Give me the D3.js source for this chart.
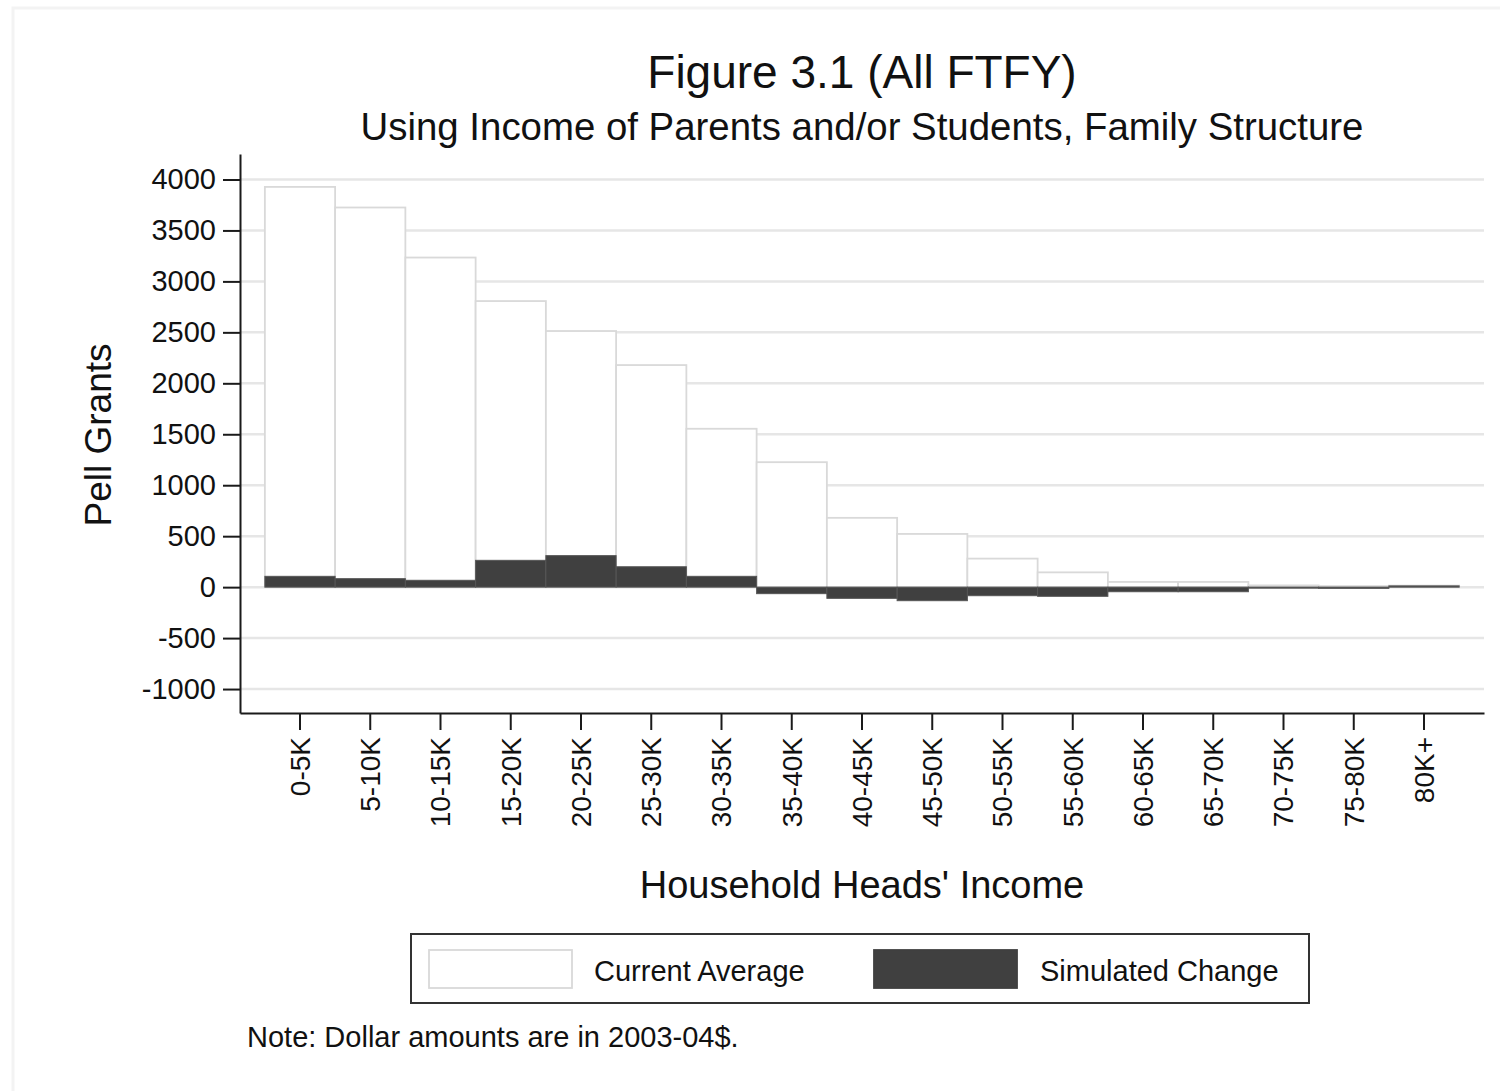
<!DOCTYPE html>
<html>
<head>
<meta charset="utf-8">
<script src="https://cdn.jsdelivr.net/npm/d3@7"></script>
<style>
  html, body { margin: 0; padding: 0; background: #fff; }
  svg { display: block; }
  text { font-family: "Liberation Sans", Arial, sans-serif; fill: #111; }
</style>
</head>
<body>
<svg id="chart" width="1500" height="1091"></svg>
<script>
// Income brackets of the household head
const categories = ["0-5K", "5-10K", "10-15K", "15-20K", "20-25K", "25-30K", "30-35K", "35-40K",
  "40-45K", "45-50K", "50-55K", "55-60K", "60-65K", "65-70K", "70-75K", "75-80K", "80K+"];
// Current average Pell Grant per bracket (dollars)
const currentAverage = [3927, 3725, 3234, 2807, 2513, 2179, 1554, 1226, 680, 522, 280, 145, 51, 51, 17, 10, 15];
// Simulated change in Pell Grant per bracket (dollars)
const simulatedChange = [106, 83, 67, 263, 309, 200, 106, -64, -110, -133, -84, -90, -45, -45, -10, -12, 12];
// Y-axis tick values
const yTicks = [-1000, -500, 0, 500, 1000, 1500, 2000, 2500, 3000, 3500, 4000];

const titleText = "Figure 3.1 (All FTFY)";
const subtitleText = "Using Income of Parents and/or Students, Family Structure";
const xTitle = "Household Heads' Income";
const yTitle = "Pell Grants";
const legendLabels = ["Current Average", "Simulated Change"];
const noteText = "Note: Dollar amounts are in 2003-04$.";

const svg = d3.select("#chart");
const W = 1500, H = 1091;
const plot = { left: 240, right: 1484, top: 154, bottom: 713 };
const darkFill = "#404040";
const barStroke = "#d9d9d9";

// faint outer frame
svg.append("rect")
  .attr("x", 13).attr("y", 8).attr("width", W).attr("height", H)
  .attr("fill", "none").attr("stroke", "#f3f3f3").attr("stroke-width", 3);

const x = d3.scaleBand()
  .domain(categories)
  .range([plot.left, plot.right])
  .paddingInner(0)
  .paddingOuter(0.354);

const y = d3.scaleLinear()
  .domain([-1235, 4250])
  .range([plot.bottom, plot.top]);

// gridlines
svg.append("g").selectAll("line")
  .data(yTicks)
  .join("line")
  .attr("x1", plot.left).attr("x2", plot.right)
  .attr("y1", d => y(d)).attr("y2", d => y(d))
  .attr("stroke", "#e6e6e6").attr("stroke-width", 2.5);

// current average bars (white with light outline)
svg.append("g").selectAll("rect")
  .data(categories.map((c, i) => ({ c, v: currentAverage[i] })))
  .join("rect")
  .attr("x", d => x(d.c))
  .attr("width", x.bandwidth())
  .attr("y", d => y(Math.max(0, d.v)))
  .attr("height", d => Math.abs(y(d.v) - y(0)))
  .attr("fill", "#fff")
  .attr("stroke", barStroke)
  .attr("stroke-width", 1.8);

// simulated change bars (dark)
svg.append("g").selectAll("rect")
  .data(categories.map((c, i) => ({ c, v: simulatedChange[i] })))
  .join("rect")
  .attr("x", d => x(d.c))
  .attr("width", x.bandwidth())
  .attr("y", d => y(Math.max(0, d.v)))
  .attr("height", d => Math.abs(y(d.v) - y(0)))
  .attr("fill", darkFill)
  .attr("stroke", "#555")
  .attr("stroke-width", 1);

// y axis
const yAxis = svg.append("g")
  .attr("transform", `translate(${plot.left},0)`)
  .call(d3.axisLeft(y).tickValues(yTicks).tickFormat(d => String(d))
    .tickSize(17).tickSizeOuter(0).tickPadding(7));
yAxis.select(".domain").attr("stroke", "#1a1a1a").attr("stroke-width", 2);
yAxis.selectAll(".tick line").attr("stroke", "#1a1a1a").attr("stroke-width", 2);
yAxis.selectAll(".tick text")
  .attr("font-size", 29)
  .style("font-family", "'Liberation Sans', Arial, sans-serif")
  .attr("fill", "#111");

// x axis
const xAxis = svg.append("g")
  .attr("transform", `translate(0,${plot.bottom})`)
  .call(d3.axisBottom(x).tickSize(17).tickSizeOuter(0));
xAxis.select(".domain").attr("stroke", "#1a1a1a").attr("stroke-width", 2);
xAxis.selectAll(".tick line").attr("stroke", "#1a1a1a").attr("stroke-width", 2);
xAxis.selectAll(".tick text")
  .attr("font-size", 28)
  .style("font-family", "'Liberation Sans', Arial, sans-serif")
  .attr("fill", "#111")
  .attr("transform", "rotate(-90)")
  .attr("text-anchor", "end")
  .attr("x", -24)
  .attr("y", 0)
  .attr("dy", "0.35em");

// titles
svg.append("text")
  .attr("x", 862).attr("y", 88)
  .attr("text-anchor", "middle")
  .attr("font-size", 46)
  .text(titleText);

svg.append("text")
  .attr("x", 862).attr("y", 140)
  .attr("text-anchor", "middle")
  .attr("font-size", 38.4)
  .text(subtitleText);

svg.append("text")
  .attr("x", 862).attr("y", 898)
  .attr("text-anchor", "middle")
  .attr("font-size", 38)
  .text(xTitle);

svg.append("text")
  .attr("transform", `translate(111,435) rotate(-90)`)
  .attr("text-anchor", "middle")
  .attr("font-size", 37)
  .text(yTitle);

// legend
const legend = svg.append("g");
legend.append("rect")
  .attr("x", 411).attr("y", 934).attr("width", 898).attr("height", 69)
  .attr("fill", "#fff").attr("stroke", "#333").attr("stroke-width", 2);

const legendItems = [
  { label: legendLabels[0], fill: "#fff", stroke: barStroke, sx: 429, tx: 594 },
  { label: legendLabels[1], fill: darkFill, stroke: darkFill, sx: 874, tx: 1040 }
];
legendItems.forEach(it => {
  legend.append("rect")
    .attr("x", it.sx).attr("y", 950).attr("width", 143).attr("height", 38)
    .attr("fill", it.fill).attr("stroke", it.stroke).attr("stroke-width", 1.8);
  legend.append("text")
    .attr("x", it.tx).attr("y", 981)
    .attr("font-size", 29)
    .text(it.label);
});

// note
svg.append("text")
  .attr("x", 247).attr("y", 1047)
  .attr("font-size", 29)
  .text(noteText);
</script>
</body>
</html>
